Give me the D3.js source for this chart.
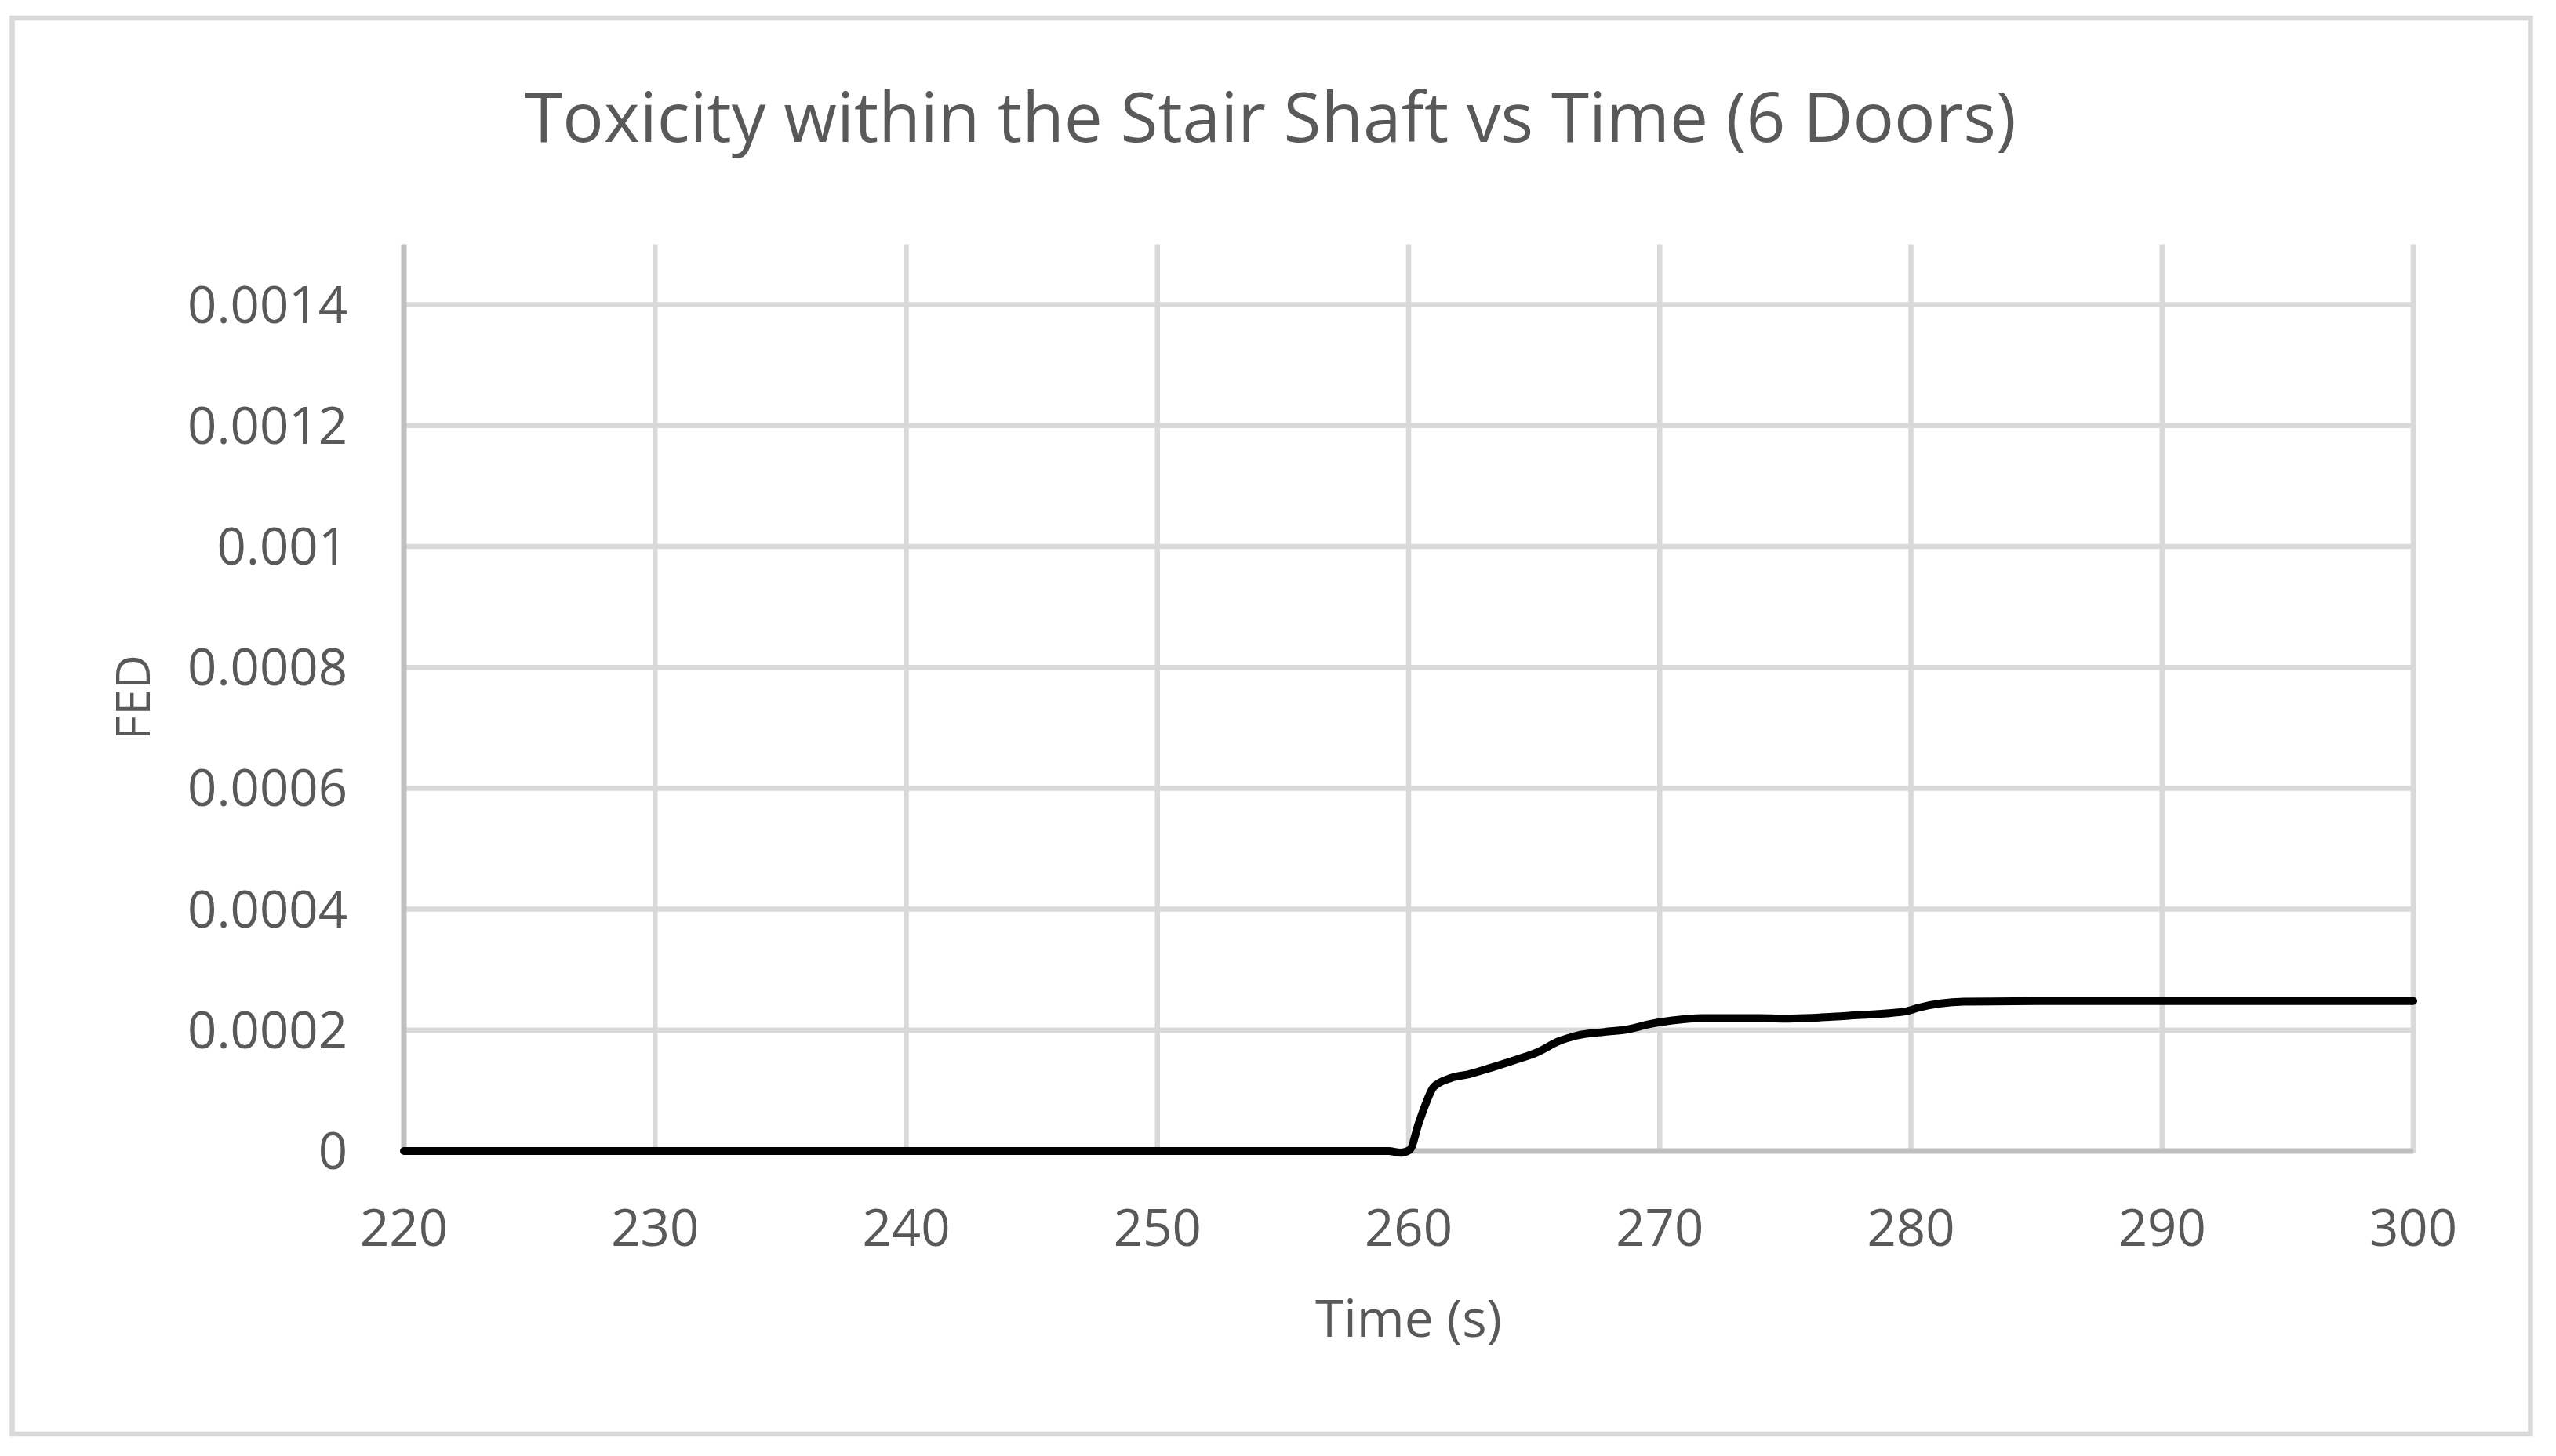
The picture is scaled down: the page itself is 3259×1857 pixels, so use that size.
<!DOCTYPE html>
<html>
<head>
<meta charset="utf-8">
<script src="https://cdn.jsdelivr.net/npm/d3@7"></script>
<style>
  html, body { margin: 0; padding: 0; background: #ffffff; }
  svg { display: block; }
  text { font-family: "Open Sans", "Noto Sans", sans-serif; fill: #595959; }
</style>
</head>
<body>
<svg id="chart" width="3259" height="1857"></svg>
<script>
// ---- data ----
const chartTitle = "Toxicity within the Stair Shaft vs Time (6 Doors)";
const xTitle = "Time (s)";
const yTitle = "FED";
const timeValues = [220, 259.2, 259.7, 260.05, 260.4, 260.7, 261.0, 261.7, 262.4, 263.3, 264.35, 265.1, 266.0, 266.7, 267.8, 268.7, 269.6, 270.5, 271.7, 274.0, 274.9, 276.4, 277.6, 279.8, 280.3, 282.1, 285.0, 300];
const fedValues = [0, 0, -0.000003, 0.000002, 0.0000455, 0.00008, 0.000106, 0.000121, 0.000127, 0.000138, 0.000152, 0.000163, 0.000182, 0.000191, 0.000197, 0.000201, 0.00021, 0.000216, 0.00022, 0.00022, 0.000219, 0.000221, 0.000224, 0.000231, 0.000237, 0.000247, 0.000248, 0.000248];
const xTickValues = [220, 230, 240, 250, 260, 270, 280, 290, 300];
const yTickValues = [0, 0.0002, 0.0004, 0.0006, 0.0008, 0.001, 0.0012, 0.0014];
const yTickLabels = ["0", "0.0002", "0.0004", "0.0006", "0.0008", "0.001", "0.0012", "0.0014"];
const xDomain = [220, 300];
const yDomain = [0, 0.0015];

// ---- layout ----
const W = 3259, H = 1857;
const plot = { left: 515, right: 3077, top: 311.5, bottom: 1468 };
const gridColor = "#d9d9d9", axisColor = "#bfbfbf";

const svg = d3.select("#chart");
svg.append("rect").attr("width", W).attr("height", H).attr("fill", "#fff");
// chart area border
svg.append("rect")
  .attr("x", 15.5).attr("y", 23)
  .attr("width", 3226.5 - 15.5).attr("height", 1829 - 23)
  .attr("fill", "#fff").attr("stroke", gridColor).attr("stroke-width", 6.5);

const x = d3.scaleLinear().domain(xDomain).range([plot.left, plot.right]);
const y = d3.scaleLinear().domain(yDomain).range([plot.bottom, plot.top]);

// helper to fit font size to measured width
function fitText(sel, targetWidth) {
  sel.attr("font-size", 100);
  const w = sel.node().getComputedTextLength();
  sel.attr("font-size", 100 * targetWidth / w);
  return 100 * targetWidth / w;
}

// horizontal gridlines
svg.append("g").selectAll("line")
  .data(yTickValues.filter(v => v > 0))
  .join("line")
  .attr("x1", plot.left).attr("x2", plot.right)
  .attr("y1", d => y(d)).attr("y2", d => y(d))
  .attr("stroke", gridColor).attr("stroke-width", 6.5);

// vertical gridlines
svg.append("g").selectAll("line")
  .data(xTickValues.filter(v => v > xDomain[0]))
  .join("line")
  .attr("x1", d => x(d)).attr("x2", d => x(d))
  .attr("y1", plot.top).attr("y2", plot.bottom + 3)
  .attr("stroke", gridColor).attr("stroke-width", 6.5);

// axes lines
svg.append("line")
  .attr("x1", plot.left).attr("x2", plot.left)
  .attr("y1", plot.top).attr("y2", plot.bottom + 3.5)
  .attr("stroke", axisColor).attr("stroke-width", 7);
svg.append("line")
  .attr("x1", plot.left - 3.5).attr("x2", plot.right)
  .attr("y1", plot.bottom).attr("y2", plot.bottom)
  .attr("stroke", axisColor).attr("stroke-width", 7);

// tick label font size fitted to "0.0014" width
const probe = svg.append("text").text("0.0014");
const tickSize = fitText(probe, 204);
probe.remove();

// y tick labels
svg.append("g").selectAll("text")
  .data(yTickValues)
  .join("text")
  .attr("x", 443)
  .attr("y", d => y(d) + 23)
  .attr("text-anchor", "end")
  .attr("font-size", tickSize)
  .text((d, i) => yTickLabels[i]);

// x tick labels
svg.append("g").selectAll("text")
  .data(xTickValues)
  .join("text")
  .attr("x", d => x(d))
  .attr("y", 1589)
  .attr("text-anchor", "middle")
  .attr("font-size", tickSize)
  .text(d => d3.format("d")(d));

// data line
const pts = timeValues.map((t, i) => [t, fedValues[i]]);
const line = d3.line()
  .x(d => x(d[0]))
  .y(d => y(d[1]))
  .curve(d3.curveMonotoneX);
svg.append("path")
  .datum(pts)
  .attr("d", line)
  .attr("fill", "none")
  .attr("stroke", "#000")
  .attr("stroke-width", 10)
  .attr("stroke-linejoin", "round")
  .attr("stroke-linecap", "round");

// title
const t = svg.append("text")
  .attr("x", (669 + 2571) / 2).attr("y", 181)
  .attr("text-anchor", "middle")
  .text(chartTitle);
fitText(t, 1902);

// x axis title
const xt = svg.append("text")
  .attr("x", (plot.left + plot.right) / 2).attr("y", 1705)
  .attr("text-anchor", "middle")
  .text(xTitle);
fitText(xt, 238);

// y axis title
const yt = svg.append("text")
  .attr("transform", "translate(191,889.5) rotate(-90)")
  .attr("text-anchor", "middle")
  .text(yTitle);
fitText(yt, 109);
</script>
</body>
</html>
